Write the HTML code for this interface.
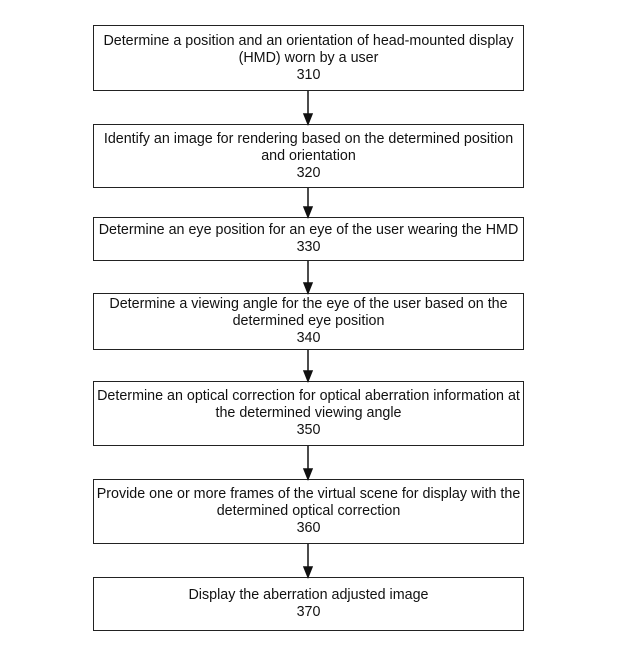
<!DOCTYPE html>
<html><head><style>
body{margin:0;background:#fff;width:623px;height:663px;position:relative;font-family:"Liberation Sans",Arial,sans-serif;}
.b{position:absolute;left:93px;width:431px;border:1.8px solid #222;box-sizing:border-box;text-align:center;font-size:14.3px;line-height:17px;color:#111;display:flex;flex-direction:column;justify-content:center;white-space:nowrap;overflow:visible;}
svg{position:absolute;left:0;top:0}
</style></head><body>
<div class="b" style="top:25px;height:66px">Determine a position and an orientation of head-mounted display<br>(HMD) worn by a user<br>310</div>
<div class="b" style="top:124px;height:64px">Identify an image for rendering based on the determined position<br>and orientation<br>320</div>
<div class="b" style="top:217px;height:44px">Determine an eye position for an eye of the user wearing the HMD<br>330</div>
<div class="b" style="top:293px;height:57px">Determine a viewing angle for the eye of the user based on the<br>determined eye position<br>340</div>
<div class="b" style="top:381px;height:65px">Determine an optical correction for optical aberration information at<br>the determined viewing angle<br>350</div>
<div class="b" style="top:479px;height:65px">Provide one or more frames of the virtual scene for display with the<br>determined optical correction<br>360</div>
<div class="b" style="top:577px;height:54px">Display the aberration adjusted image<br>370</div>
<svg width="623" height="663">
<g stroke="#111" stroke-width="1.5" fill="#111">
<line x1="308" y1="91" x2="308" y2="116"/><polygon points="304,114 312,114 308,124"/>
<line x1="308" y1="188" x2="308" y2="209"/><polygon points="304,207 312,207 308,217"/>
<line x1="308" y1="261" x2="308" y2="285"/><polygon points="304,283 312,283 308,293"/>
<line x1="308" y1="350" x2="308" y2="373"/><polygon points="304,371 312,371 308,381"/>
<line x1="308" y1="446" x2="308" y2="471"/><polygon points="304,469 312,469 308,479"/>
<line x1="308" y1="544" x2="308" y2="569"/><polygon points="304,567 312,567 308,577"/>
</g></svg>
</body></html>
